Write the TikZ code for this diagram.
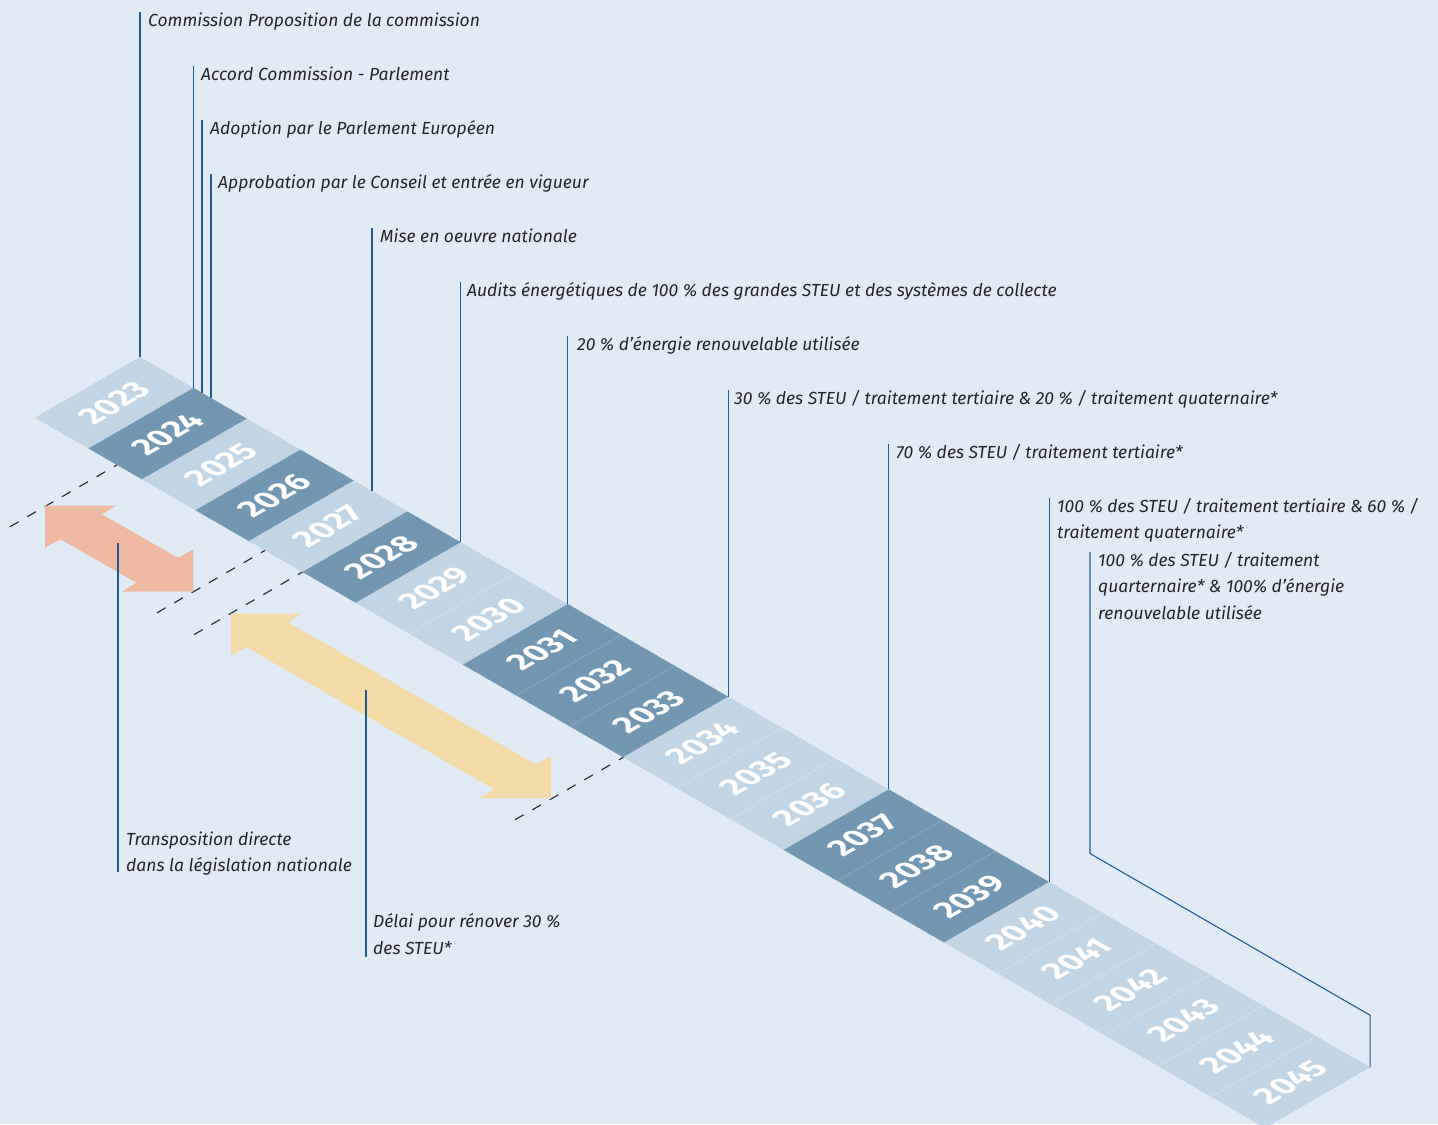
\documentclass[tikz,border=0pt]{standalone}
\usepackage{fontspec}
\setmainfont{Fira Sans}
\usetikzlibrary{calc}
\definecolor{bg}{HTML}{E1EBF6}
\definecolor{tilelight}{HTML}{C1D5E4}
\definecolor{tiledark}{HTML}{7297B3}
\definecolor{seplight}{HTML}{D3E1EC}
\definecolor{sepdark}{HTML}{88A9C2}
\definecolor{pinkarrow}{HTML}{EEB9A0}
\definecolor{yellowarrow}{HTML}{F4DBA8}
\definecolor{connline}{HTML}{245A94}
\definecolor{txt}{HTML}{252525}
\definecolor{dashcol}{HTML}{333333}
\begin{document}
\begin{tikzpicture}[x=1bp,y=-1bp,
  conn/.style={draw=connline,line width=1.1bp},
  guide/.style={draw=dashcol,line width=1.2bp,dash pattern=on 10bp off 10bp},
  label/.style={anchor=base west,inner sep=0pt,text=txt,align=left,
    font=\itshape\fontsize{17.5bp}{26.5bp}\selectfont},
  yearlbl/.style={transform shape,inner sep=0pt,text=white,
    font=\bfseries\fontsize{32bp}{32bp}\selectfont},
  sep/.style={line width=0.7bp}]
\useasboundingbox (0,0) rectangle (1438,1124);
\fill[bg] (0,0) rectangle (1438,1124);
\begin{scope}
\clip (0,0) rectangle (1438,1124);
% tile corners
\foreach \k in {0,...,23}{
  \coordinate (T\k) at ({140+53.48*\k},{357+30.88*\k});
  \coordinate (B\k) at ({35+53.48*\k},{417.62+30.88*\k});
}
% tiles
\foreach \k/\col in {0/tilelight,1/tiledark,2/tilelight,3/tiledark,4/tilelight,5/tiledark,
  6/tilelight,7/tilelight,8/tiledark,9/tiledark,10/tiledark,11/tilelight,12/tilelight,
  13/tilelight,14/tiledark,15/tiledark,16/tiledark,17/tilelight,18/tilelight,19/tilelight,
  20/tilelight,21/tilelight,22/tilelight}{
  \pgfmathtruncatemacro{\kk}{\k+1}
  \fill[\col] (T\k) -- (T\kk) -- (B\kk) -- (B\k) -- cycle;
}
% separators between tiles of the same shade
\foreach \k in {7,12,13,18,19,20,21,22}{\draw[sep,seplight] (T\k) -- (B\k);}
\foreach \k in {9,10,15,16}{\draw[sep,sepdark] (T\k) -- (B\k);}
% year labels
\foreach \k in {0,...,22}{
  \pgfmathtruncatemacro{\yr}{2023+\k}
  \pgfmathsetmacro{\cx}{114.26+53.48*\k}
  \pgfmathsetmacro{\cy}{402.93+30.88*\k}
  \node[yearlbl,cm={0.866,0.5,-0.866,0.5,(\cx,\cy)}] (y\yr) {\yr};
}
\end{scope}

% dashed guides
\coordinate (g1a) at (10,526.7);  \coordinate (g1b) at (117,464.9);
\coordinate (g2a) at (157,612.8); \coordinate (g2b) at (265,550.4);
\coordinate (g3a) at (194,634.6); \coordinate (g3b) at (B5);
\coordinate (g4a) at (515,819.8); \coordinate (g4b) at (B11);
\draw[guide] (g1a) -- (g1b);
\draw[guide] (g2a) -- (g2b);
\draw[guide] (g3a) -- (g3b);
\draw[guide] (g4a) -- (g4b);

% double arrows
\coordinate (pA) at (45,505.5);  \coordinate (pF) at (193.3,591.5);
\coordinate (yA) at (231,613.5); \coordinate (yF) at (551,798);
\fill[pinkarrow] (pA) -- ($(pA)+(71,0)$) -- ($(pA)+(57,8.8)$) -- ($(pF)+(-15.5,-33.8)$)
  -- ($(pF)+(0,-42)$) -- (pF) -- ($(pF)+(-71,0)$) -- ($(pF)+(-57,-8.8)$)
  -- ($(pA)+(15.5,33.8)$) -- ($(pA)+(0,42)$) -- cycle;
\fill[yellowarrow] (yA) -- ($(yA)+(71,0)$) -- ($(yA)+(57,8.8)$) -- ($(yF)+(-15.5,-33.8)$)
  -- ($(yF)+(0,-42)$) -- (yF) -- ($(yF)+(-71,0)$) -- ($(yF)+(-57,-8.8)$)
  -- ($(yA)+(15.5,33.8)$) -- ($(yA)+(0,42)$) -- cycle;

% labels (multi-line labels are placed by the baseline of their last line)
\node[label] (t1) at (148,26) {Commission Proposition de la commission};
\node[label] (t2) at (201,80) {Accord Commission - Parlement};
\node[label] (t3) at (210,134) {Adoption par le Parlement Européen};
\node[label] (t4) at (218,188) {Approbation par le Conseil et entrée en vigueur};
\node[label] (t5) at (380,242) {Mise en oeuvre nationale};
\node[label] (t6) at (467,296) {Audits énergétiques de 100 \% des grandes STEU et des systèmes de collecte};
\node[label] (t7) at (577,350) {20 \% d’énergie renouvelable utilisée};
\node[label] (t8) at (734,404) {30 \% des STEU / traitement tertiaire \& 20 \% / traitement quaternaire*};
\node[label] (t9) at (896,458) {70 \% des STEU / traitement tertiaire*};
\node[label] (t10) at (1057,538.5) {100 \% des STEU / traitement tertiaire \& 60 \% /\\traitement quaternaire*};
\node[label] (t11) at (1098,619) {100 \% des STEU / traitement\\quarternaire* \& 100\% d’énergie\\renouvelable utilisée};
\node[label] (t12) at (126,871.5) {Transposition directe\\dans la législation nationale};
\node[label] (t13) at (373,954) {Délai pour rénover 30 \%\\des STEU*};

% connector lines
\coordinate (c1) at (140,12);
\coordinate (c2) at (193.48,66);
\coordinate (c3) at (202,120);   \coordinate (c3e) at (202,392.8);
\coordinate (c4) at (211,174);   \coordinate (c4e) at (211,398);
\coordinate (c5) at (372,228);   \coordinate (c5e) at (372,491);
\coordinate (c6) at (T6 |- 0,282);
\coordinate (c7) at (T8 |- 0,336);
\coordinate (c8) at (T11 |- 0,390);
\coordinate (c9) at (T14 |- 0,444);
\coordinate (c10) at (T17 |- 0,498);
\coordinate (c11) at (1090,552); \coordinate (c11b) at (1090,853.5);
\coordinate (c11c) at (T23 |- 0,1015.2);
\coordinate (c12) at (118,543);  \coordinate (c12e) at (118,872);
\coordinate (c13) at (366,690);  \coordinate (c13e) at (366,957);
\draw[conn] (c1) -- (T0);
\draw[conn] (c2) -- (T1);
\draw[conn] (c3) -- (c3e);
\draw[conn] (c4) -- (c4e);
\draw[conn] (c5) -- (c5e);
\draw[conn] (c6) -- (T6);
\draw[conn] (c7) -- (T8);
\draw[conn] (c8) -- (T11);
\draw[conn] (c9) -- (T14);
\draw[conn] (c10) -- (T17);
\draw[conn] (c11) -- (c11b) -- (c11c) -- (T23);
\draw[conn] (c12) -- (c12e);
\draw[conn] (c13) -- (c13e);
\end{tikzpicture}
\end{document}
